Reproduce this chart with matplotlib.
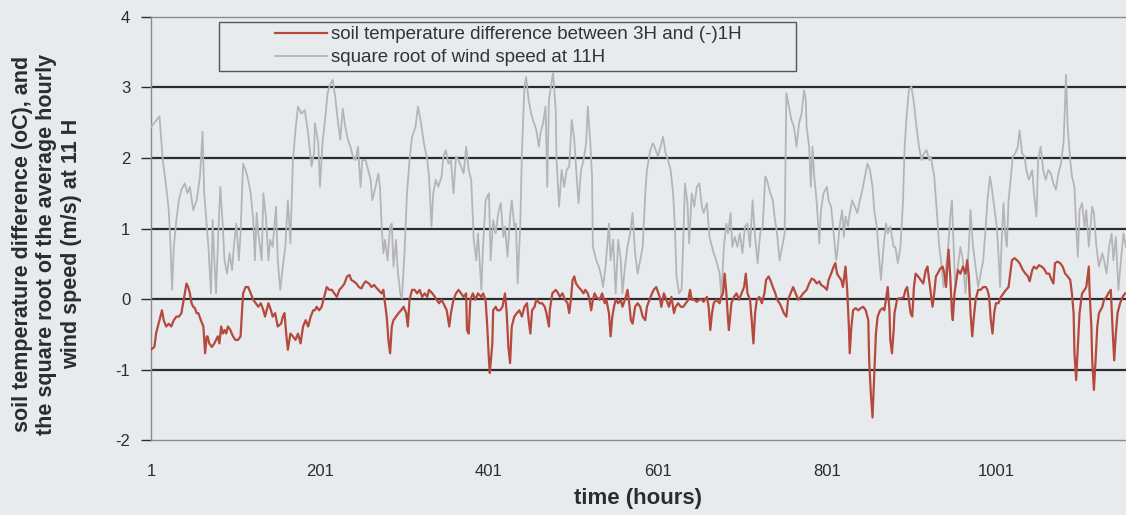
import matplotlib
matplotlib.use("Agg")
import matplotlib.pyplot as plt
from matplotlib.lines import Line2D
from matplotlib.patches import Rectangle

# hourly series (hour index, value)
wind_hours = [1, 11, 15, 19, 22, 24, 26, 28, 31, 34, 37, 41, 44, 47, 51, 55, 59, 62, 64, 67, 69, 72, 74, 76, 78, 81, 83, 86, 88, 91, 94, 97, 99, 102, 105, 107, 110, 113, 116, 119, 122, 124, 126, 128, 132, 134, 137, 140, 142, 145, 149, 151, 154, 157, 160, 163, 166, 169, 172, 175, 179, 183, 187, 191, 194,
              195, 199, 201, 204, 207, 210, 213, 216, 219, 222, 225, 228, 231, 234, 237, 240, 243, 246, 249, 251, 255, 258, 261, 263, 266, 270, 272, 274, 276, 278, 281, 284, 286, 288, 291, 293, 296, 298, 301, 304, 307, 310, 314, 317, 320, 324, 328, 330, 333, 335, 338, 341, 345, 347, 350, 353, 356, 359, 362, 365, 368, 371, 374, 377, 380, 383, 386, 388,
              392, 394, 397, 401, 403, 406, 409, 412, 415, 418, 420, 423, 426, 428, 431, 433, 435, 438, 440, 443, 445, 448, 451, 453, 457, 460, 462, 465, 468, 470, 472, 476, 477, 480, 481, 484, 487, 490, 493, 496, 499, 502, 504, 507, 510, 513, 516, 518, 521, 523, 524, 528, 531, 534, 536, 539, 543, 545, 548, 551, 554, 557, 559, 562, 565, 568, 571, 574, 577, 580,
              583, 586, 588, 592, 595, 597, 601, 604, 607, 610, 613, 616, 619, 621, 623, 626, 629, 631, 633, 636, 638, 641, 644, 647, 650, 653, 655, 659, 662, 665, 667, 670, 674, 676, 679, 682, 684, 687, 689, 692, 695, 698, 701, 704, 707, 710, 713, 716, 719, 722, 725, 728, 730, 734, 737, 739, 742, 745, 748, 751, 753, 756, 759, 762, 765, 768, 771, 774, 776,
              777, 780, 782, 784, 786, 789, 792, 794, 797, 801, 803, 806, 809, 812, 814, 816, 819, 821, 823, 826, 828, 831, 834, 837, 840, 843, 846, 849, 852, 855, 857, 860, 863, 865, 868, 871, 873, 876, 880, 882, 885, 888, 891, 893, 895, 898, 901, 904, 907, 910, 913, 916, 919, 922, 924, 928, 931, 934, 936, 939, 942, 944, 947, 949, 951, 953, 956, 959, 962, 965,
              969, 971, 974, 977, 980, 983, 986, 989, 991, 994, 996, 999, 1002, 1004, 1006, 1008, 1010, 1012, 1014, 1016, 1018, 1021, 1024, 1027, 1029, 1032, 1035, 1037, 1040, 1044, 1046, 1049, 1051, 1054, 1057, 1060, 1063, 1066, 1069, 1072, 1075, 1078, 1081, 1082, 1084, 1086, 1089, 1091, 1094, 1096, 1098, 1100, 1103, 1106, 1108, 1111, 1115, 1117, 1120, 1123, 1127, 1129, 1132, 1135, 1138, 1140, 1143, 1146, 1149, 1152, 1155]
wind_sqrt = [2.44, 2.59, 1.97, 1.59, 1.26, 0.79, 0.13, 0.74, 1.12, 1.40, 1.55, 1.64, 1.50, 1.59, 1.26, 1.40, 1.74, 2.37, 1.50, 1.03, 0.74, 0.08, 1.12, 0.55, 0.08, 1.03, 1.59, 1.03, 0.55, 0.36, 0.65, 0.41, 0.74, 1.07, 0.55, 0.93, 1.92, 1.83, 1.69, 1.50, 1.12, 0.55, 1.22, 0.93, 0.55, 1.50, 1.17, 0.55, 0.84, 0.74, 1.31, 0.55, 0.13, 0.46, 0.74, 1.40, 0.79, 1.97, 2.40, 2.73, 2.63, 2.68, 2.35, 1.88, 2.07,
             2.49, 2.21, 1.59, 2.21, 2.54, 2.92, 3.04, 3.11, 2.87, 2.54, 2.26, 2.70, 2.44, 2.26, 2.16, 2.02, 1.97, 2.16, 1.59, 1.97, 1.97, 1.83, 1.69, 1.40, 1.55, 1.78, 1.59, 1.03, 0.65, 0.84, 0.55, 1.03, 1.07, 0.46, 0.84, 0.41, 0.08, 0.01, 0.65, 1.50, 1.97, 2.30, 2.44, 2.73, 2.54, 2.21, 1.97, 1.74, 1.03, 1.50, 1.69, 1.59, 1.74, 2.02, 2.11, 1.92, 1.97, 1.50, 2.02, 1.97, 1.88, 1.78, 2.16, 1.83, 1.69, 0.84, 0.55, 0.93,
             0.13, 0.74, 1.40, 1.50, 0.55, 1.12, 0.93, 1.22, 1.36, 0.88, 1.03, 0.60, 1.17, 1.40, 1.03, 1.07, 0.22, 1.03, 2.07, 3.01, 3.15, 2.82, 2.63, 2.54, 2.40, 2.16, 2.35, 2.49, 2.73, 1.59, 2.82, 3.15, 3.20, 2.68, 1.97, 1.31, 1.83, 1.59, 1.83, 1.88, 2.54, 2.26, 1.88, 1.36, 1.83, 1.97, 2.21, 2.73, 2.21, 1.74, 0.74, 0.55, 0.46, 0.32, 0.17, 0.46, 1.07, 0.55, 0.84, 0.08, 0.84, 0.55, 0.08, 0.46, 0.74, 0.93, 1.22, 0.65, 0.36, 0.55,
             0.74, 1.50, 1.83, 2.11, 2.21, 2.16, 2.02, 2.16, 2.30, 2.07, 1.97, 1.83, 1.50, 1.03, 0.32, 0.08, 0.13, 0.84, 1.64, 1.36, 0.79, 1.50, 1.31, 1.59, 1.64, 1.31, 1.22, 1.36, 0.88, 0.74, 0.65, 0.55, 0.36, 0.03, 0.74, 1.07, 0.93, 1.22, 0.74, 0.88, 0.74, 0.93, 0.65, 1.03, 1.07, 0.74, 1.40, 0.88, 0.51, 0.93, 1.03, 1.74, 1.69, 1.50, 1.40, 1.17, 0.93, 0.55, 0.74, 0.93, 2.92, 2.73, 2.54, 2.44, 2.16, 2.49, 2.63, 2.96, 2.82,
             2.44, 2.16, 1.59, 2.16, 1.74, 1.36, 0.79, 1.26, 1.50, 1.59, 1.40, 1.31, 0.93, 0.55, 0.74, 1.03, 1.26, 0.88, 1.17, 1.03, 1.22, 1.40, 1.31, 1.22, 1.40, 1.55, 1.74, 1.92, 1.83, 1.59, 1.26, 1.03, 0.55, 0.27, 0.74, 1.07, 0.93, 1.03, 0.74, 0.74, 0.51, 0.74, 1.36, 2.16, 2.54, 2.96, 3.01, 2.78, 2.44, 2.16, 1.97, 2.07, 2.11, 1.97, 2.02, 1.74, 1.26, 0.74, 0.55, 0.17, 0.46, 0.65, 1.17, 1.40, 0.74, 0.17, 0.46, 0.74, 0.55, 0.08,
             0.74, 1.26, 0.74, 0.46, 0.17, 0.36, 0.55, 1.03, 1.40, 1.74, 1.59, 1.31, 1.03, 0.65, 0.17, 0.88, 1.36, 0.93, 0.74, 1.40, 1.64, 2.02, 2.07, 2.16, 2.39, 2.07, 2.02, 1.83, 1.69, 1.83, 1.50, 1.17, 1.97, 2.16, 1.83, 1.69, 1.83, 1.78, 1.64, 1.55, 1.78, 1.92, 2.21, 2.49, 3.18, 2.44, 1.97, 1.74, 1.59, 1.03, 0.60, 1.26, 1.36, 1.03, 1.26, 0.74, 1.31, 1.22, 0.74, 0.46, 0.65, 0.55, 0.36, 0.74, 0.93, 0.55, 0.88, 0.13, 0.55, 0.93, 0.74]

soil_hours = [1, 5, 7, 11, 14, 16, 19, 22, 25, 28, 31, 34, 37, 39, 41, 43, 45, 47, 49, 51, 53, 55, 57, 60, 63, 65, 67, 68, 70, 73, 76, 80, 82, 84, 86, 88, 90, 92, 95, 98, 101, 104, 107, 110, 113, 116, 119, 122, 125, 128, 131, 134, 136, 140, 143, 145, 148, 151, 155, 157, 159, 161, 163, 166, 169, 172, 175, 178, 181, 184, 187, 190, 193,
              195, 197, 200, 203, 207, 209, 212, 215, 218, 221, 224, 227, 230, 233, 236, 238, 241, 244, 247, 250, 253, 255, 259, 262, 265, 267, 270, 274, 276, 278, 280, 282, 284, 286, 288, 291, 294, 297, 300, 303, 305, 307, 310, 313, 316, 319, 322, 325, 328, 330, 334, 337, 339, 342, 345, 349, 351, 354, 356, 359, 362, 365, 368, 371, 374, 375, 377, 379, 382, 385, 388,
              392, 394, 397, 399, 401, 402, 405, 406, 409, 411, 414, 417, 420, 422, 424, 426, 428, 431, 434, 437, 440, 443, 446, 448, 450, 452, 455, 457, 461, 464, 467, 469, 472, 473, 476, 480, 482, 485, 488, 491, 494, 496, 498, 500, 502, 504, 507, 510, 513, 515, 518, 520, 522, 524, 526, 528, 532, 535, 538, 540, 543, 545, 547, 549, 551, 554, 557, 559, 562, 565, 567, 569, 571, 574, 577, 580,
              583, 586, 588, 591, 594, 596, 599, 603, 605, 608, 611, 614, 617, 620, 622, 625, 628, 631, 634, 637, 639, 641, 644, 647, 650, 653, 655, 659, 661, 663, 665, 667, 670, 674, 676, 678, 680, 682, 684, 685, 688, 691, 694, 697, 700, 703, 705, 707, 710, 712, 714, 716, 718, 721, 724, 727, 729, 732, 734, 737, 740, 742, 745, 747, 750, 753, 755, 758, 761, 764, 767, 770, 773,
              777, 780, 783, 786, 789, 792, 794, 798, 801, 803, 806, 809, 811, 813, 815, 818, 820, 823, 825, 827, 828, 830, 832, 835, 838, 841, 844, 847, 850, 851, 853, 855, 857, 859, 861, 864, 867, 869, 872, 873, 875, 876, 878, 880, 881, 884, 886, 889, 892, 894, 896, 898, 900, 902, 904, 906, 909, 912, 915, 918, 920, 922, 924, 926, 928, 930, 932, 935, 938, 940, 942, 943, 945, 947, 949, 950, 952, 955, 956, 959, 962, 965,
              967, 969, 971, 973, 975, 977, 980, 983, 986, 989, 991, 993, 995, 997, 999, 1001, 1004, 1007, 1010, 1013, 1016, 1018, 1020, 1023, 1026, 1029, 1031, 1033, 1036, 1039, 1041, 1044, 1046, 1049, 1052, 1055, 1058, 1061, 1064, 1067, 1069, 1071, 1074, 1077, 1080, 1083, 1086, 1089, 1091, 1093, 1094, 1096, 1098, 1100, 1103, 1106, 1108, 1111, 1112, 1114, 1115, 1117, 1119, 1121, 1123, 1127, 1129, 1132, 1134, 1137, 1139, 1141, 1143, 1145, 1148, 1151, 1154]
soil_diff = [-0.72, -0.68, -0.49, -0.30, -0.16, -0.30, -0.39, -0.35, -0.39, -0.30, -0.25, -0.25, -0.20, -0.06, 0.08, 0.22, 0.17, 0.08, -0.06, -0.11, -0.13, -0.20, -0.20, -0.30, -0.39, -0.77, -0.53, -0.53, -0.63, -0.68, -0.63, -0.53, -0.63, -0.39, -0.49, -0.44, -0.49, -0.39, -0.44, -0.53, -0.58, -0.58, -0.53, 0.08, 0.17, 0.17, 0.08, -0.01, -0.06, -0.11, -0.06, -0.16, -0.25, -0.06, -0.16, -0.25, -0.20, -0.39, -0.35, -0.25, -0.20, -0.49, -0.72, -0.49, -0.53, -0.58, -0.49, -0.63, -0.39, -0.30, -0.39, -0.25, -0.16,
             -0.16, -0.11, -0.16, -0.11, 0.08, 0.17, 0.13, 0.13, 0.08, 0.03, 0.13, 0.17, 0.22, 0.32, 0.34, 0.27, 0.25, 0.22, 0.17, 0.15, 0.22, 0.25, 0.22, 0.17, 0.20, 0.17, 0.13, 0.08, 0.13, -0.06, -0.25, -0.58, -0.77, -0.39, -0.30, -0.25, -0.20, -0.16, -0.11, -0.20, -0.39, -0.01, 0.13, 0.13, 0.08, 0.13, 0.03, 0.08, 0.03, 0.13, 0.08, 0.03, -0.01, -0.06, -0.01, -0.11, -0.16, -0.39, -0.20, -0.01, 0.08, 0.13, 0.08, 0.03, 0.08, -0.44, -0.49, -0.01, 0.08, -0.01, 0.08,
             0.03, 0.08, -0.01, -0.39, -0.87, -1.05, -0.63, -0.16, -0.11, -0.16, -0.16, -0.11, 0.08, -0.20, -0.68, -0.91, -0.39, -0.25, -0.20, -0.16, -0.25, -0.11, -0.06, -0.30, -0.49, -0.16, -0.11, -0.01, -0.06, -0.06, -0.11, -0.20, -0.39, -0.16, 0.08, 0.13, 0.10, 0.03, 0.08, -0.01, -0.06, -0.20, -0.01, 0.27, 0.32, 0.22, 0.17, 0.13, 0.08, 0.13, 0.08, -0.01, -0.16, -0.01, 0.08, 0.03, -0.01, 0.08, -0.06, -0.01, -0.20, -0.53, -0.25, -0.11, -0.01, -0.06, -0.01, -0.11, -0.01, 0.13, -0.06, -0.30, -0.35, -0.11, -0.06, -0.11,
             -0.25, -0.30, -0.11, -0.01, 0.08, 0.13, 0.17, 0.03, -0.11, 0.08, -0.01, -0.11, 0.03, -0.20, -0.11, -0.06, -0.11, -0.11, -0.06, -0.01, 0.13, -0.01, -0.01, -0.04, -0.01, -0.01, -0.04, 0.03, -0.11, -0.44, -0.20, -0.06, -0.01, -0.06, 0.03, 0.08, 0.36, 0.08, -0.30, -0.44, -0.06, 0.03, 0.08, -0.01, 0.08, 0.17, 0.36, 0.08, -0.01, -0.30, -0.63, -0.20, -0.01, 0.03, -0.06, 0.08, 0.27, 0.32, 0.27, 0.17, 0.08, -0.01, -0.06, -0.11, -0.20, -0.25, -0.01, 0.08, 0.17, 0.08, -0.01, 0.03, 0.08,
             0.13, 0.22, 0.29, 0.27, 0.22, 0.25, 0.20, 0.17, 0.13, 0.27, 0.36, 0.46, 0.51, 0.36, 0.32, 0.27, 0.17, 0.46, 0.13, -0.39, -0.77, -0.39, -0.16, -0.13, -0.16, -0.13, -0.11, -0.16, -0.30, -0.87, -1.34, -1.68, -1.10, -0.49, -0.25, -0.16, -0.13, -0.16, 0.08, 0.17, -0.16, -0.58, -0.77, -0.44, -0.20, -0.01, 0.01, 0.01, 0.03, 0.13, 0.17, -0.01, -0.20, -0.25, 0.17, 0.36, 0.32, 0.27, 0.22, 0.41, 0.46, 0.27, 0.08, -0.11, 0.08, 0.32, 0.36, 0.43, 0.46, 0.36, 0.17, 0.36, 0.70, 0.32, -0.20, -0.30, 0.08, 0.32, 0.41, 0.36, 0.46, 0.36,
             0.55, 0.32, -0.20, -0.53, -0.25, -0.01, 0.13, 0.13, 0.17, 0.17, 0.13, 0.03, -0.30, -0.49, -0.20, -0.06, -0.06, 0.03, 0.08, 0.13, 0.17, 0.36, 0.55, 0.58, 0.55, 0.51, 0.46, 0.41, 0.36, 0.32, 0.25, 0.41, 0.46, 0.43, 0.48, 0.46, 0.43, 0.36, 0.36, 0.27, 0.22, 0.51, 0.53, 0.51, 0.46, 0.36, 0.32, 0.27, 0.08, -0.20, -0.77, -1.15, -0.68, -0.20, 0.08, 0.13, 0.17, 0.46, 0.08, -0.39, -0.87, -1.29, -0.87, -0.39, -0.20, -0.11, -0.01, 0.03, 0.08, 0.13, -0.39, -0.87, -0.49, -0.20, -0.06, 0.03, 0.08]

soil_label = "soil temperature difference between 3H and (-)1H"
wind_label = "square root of wind speed at 11H"
x_ticks = [1, 201, 401, 601, 801, 1001]
y_ticks = [-2, -1, 0, 1, 2, 3, 4]

paper = "#e8ebee"
red = "#b6493d"
grey = "#b5b5b9"
ink = "#2c2c2c"

plt.rcParams['font.family'] = ['Liberation Sans', 'DejaVu Sans']
plt.rcParams['axes.unicode_minus'] = False

fig = plt.figure(figsize=(11.26, 5.15), dpi=100, facecolor=paper)
ax = fig.add_axes([0.1341, 0.1456, 0.8659, 0.8214], facecolor=paper)

ax.plot(wind_hours, wind_sqrt, color=grey, lw=1.3, zorder=3)
ax.plot(soil_hours, soil_diff, color=red, lw=1.6, zorder=4)

ax.set_xlim(1, 1155)
ax.set_ylim(-2, 4)
ax.set_xticks(x_ticks)
ax.set_yticks(y_ticks)
ax.tick_params(axis='x', length=0, pad=17, labelsize=12, colors=ink)
ax.tick_params(axis='y', length=7, width=1, pad=8, labelsize=12, colors=ink, direction='out')

ax.grid(axis='y', color=ink, lw=1.6, zorder=1)
gl = ax.get_ygridlines()
gl[0].set_visible(False)
gl[-1].set_visible(False)

for side in ['left', 'bottom', 'top']:
    ax.spines[side].set_color('#8a8a8a')
    ax.spines[side].set_linewidth(1.0)
ax.spines['right'].set_visible(False)

ax.set_xlabel("time (hours)", fontsize=16, fontweight='bold', color=ink, labelpad=7)
ax.set_ylabel("soil temperature difference (oC), and\nthe square root of the average hourly\nwind speed (m/s) at 11 H",
              fontsize=15.5, fontweight='bold', color=ink, va='center', ha='center', multialignment='center')
ax.yaxis.set_label_coords(-0.1067, 0.463)

# legend box like the original (wide frame, entries offset to the right)
ax.add_patch(Rectangle((0.0697, 0.8723), 0.5918, 0.1159, transform=ax.transAxes,
                       facecolor=paper, edgecolor='#555555', lw=1.0, zorder=6))
handles = [Line2D([], [], color=red, lw=1.6), Line2D([], [], color=grey, lw=1.3)]
leg = ax.legend(handles, [soil_label, wind_label], loc='upper left', bbox_to_anchor=(0.127, 0.978),
                frameon=False, fontsize=13.5, handlelength=2.8, handletextpad=0.2,
                borderpad=0, borderaxespad=0, labelspacing=0.3)
leg.set_zorder(7)
for t in leg.get_texts():
    t.set_color('#333333')

fig.savefig("out.png", dpi=100, facecolor=paper)
